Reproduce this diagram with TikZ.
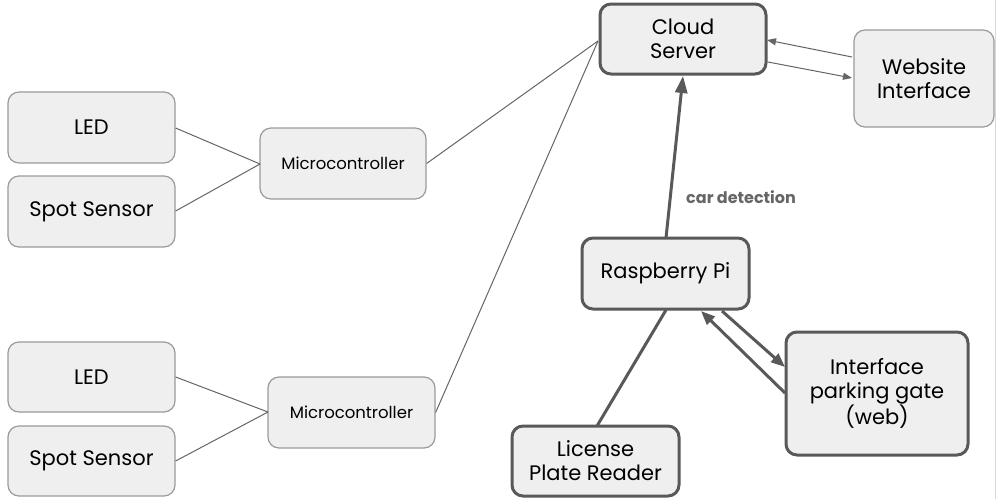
\documentclass[tikz,border=0pt]{standalone}
\usepackage{fontspec}
\setmainfont{Poppins}
\usetikzlibrary{arrows.meta}
\definecolor{boxfill}{HTML}{EFEFEF}
\definecolor{thickline}{HTML}{595959}
\definecolor{thinline}{HTML}{9A9A9A}
\definecolor{conn}{HTML}{666666}
\begin{document}
\begin{tikzpicture}[x=1pt,y=-1pt,
  thinbox/.style={draw=thinline, line width=1.2pt, fill=boxfill, rounded corners=11pt, align=center, inner sep=0pt, font=\fontsize{21}{24}\selectfont},
  thickbox/.style={draw=thickline, line width=3pt, fill=boxfill, rounded corners=11pt, align=center, inner sep=0pt, font=\fontsize{21}{24}\selectfont},
  smallbox/.style={thinbox, font=\fontsize{16.5}{19}\selectfont},
  thinconn/.style={draw=conn, line width=1pt},
  thickconn/.style={draw=thickline, line width=3pt},
  thinarrow/.style={thinconn, -{Triangle[length=9pt,width=7pt]}},
  thickarrow/.style={thickconn, -{Triangle[length=17pt,width=12pt]}},
  gatearrow/.style={thickconn, -{Triangle[length=14pt,width=11pt]}}
]
\useasboundingbox (0,0) rectangle (996,499);
\fill[white] (0,0) rectangle (996,499);
\draw[color=black!15, line width=1pt] (995.5,0) -- (995.5,499);

% boxes
\node[thickbox, minimum width=166pt, minimum height=70pt] (cloud) at (683,39) {Cloud\\Server};
\node[thinbox, minimum width=140pt, minimum height=97pt] (web) at (924,78.5) {Website\\Interface};
\node[thinbox, minimum width=167pt, minimum height=71pt] (led1) at (91.5,127.5) {LED};
\node[thinbox, minimum width=167pt, minimum height=71pt] (spot1) at (91.5,211.5) {Spot Sensor};
\node[smallbox, minimum width=166pt, minimum height=71pt] (mc1) at (343,163.5) {Microcontroller};
\node[thinbox, minimum width=167pt, minimum height=70pt] (led2) at (91.5,377) {LED};
\node[thinbox, minimum width=167pt, minimum height=70pt] (spot2) at (91.5,461) {Spot Sensor};
\node[smallbox, minimum width=167pt, minimum height=71pt] (mc2) at (351.5,412.5) {Microcontroller};
\node[thickbox, minimum width=167pt, minimum height=71pt] (rpi) at (665.5,273.5) {Raspberry Pi};
\node[thickbox, minimum width=167pt, minimum height=70pt] (lpr) at (595.5,461) {License\\Plate Reader};
\node[thickbox, minimum width=182pt, minimum height=123pt] (gate) at (877,393.5) {Interface\\parking gate\\(web)};

% coordinates for connector ends
\coordinate (cl) at (598,41);
\coordinate (mc1in) at (260,164);
\coordinate (mc2in) at (268,412);

% left connectors
\draw[thinconn] (led1.east |- 0,128) -- (mc1in);
\draw[thinconn] (spot1.east |- 0,211) -- (mc1in);
\draw[thinconn] (mc1.east) -- (cl);
\draw[thinconn] (led2.east |- 0,377) -- (mc2in);
\draw[thinconn] (spot2.east |- 0,461) -- (mc2in);
\draw[thinconn] (mc2.east) -- (cl);

% cloud <-> website
\coordinate (w1) at (852,57);
\coordinate (c1) at (767,40);
\coordinate (c2) at (768,62);
\coordinate (w2) at (852,78);
\draw[thinarrow] (w1) -- (c1);
\draw[thinarrow] (c2) -- (w2);

% raspberry pi -> cloud
\coordinate (rt) at (666,238);
\coordinate (cb) at (683,76);
\draw[thickarrow] (rt) -- (cb);
\node[font=\fontsize{16}{18}\selectfont\bfseries, text=conn, anchor=west, inner sep=0pt] (lbl) at (686,197) {car detection};

% license plate reader - rpi
\coordinate (lt) at (597,426);
\coordinate (rb) at (666,310);
\draw[thickconn] (lt) -- (rb);

% rpi <-> gate
\coordinate (r1) at (722,311);
\coordinate (g1) at (785,367);
\coordinate (g2) at (785,393);
\coordinate (r2) at (701,311);
\draw[gatearrow] (r1) -- (g1);
\draw[gatearrow] (g2) -- (r2);
\end{tikzpicture}
\end{document}
